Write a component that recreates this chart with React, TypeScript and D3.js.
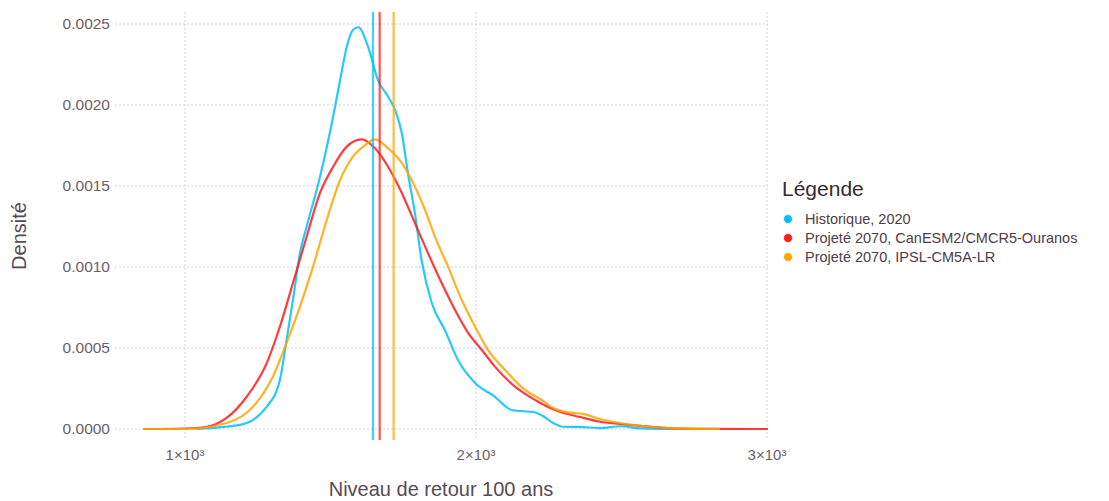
import React, { useEffect } from "react";
import * as d3 from "d3";

// ---- data ----
const xTicks = [1000, 2000, 3000];
const xTickLabels = ["1×10³", "2×10³", "3×10³"];
const yTicks = [0, 0.0005, 0.001, 0.0015, 0.002, 0.0025];
const yTickLabels = ["0.0000", "0.0005", "0.0010", "0.0015", "0.0020", "0.0025"];

const seriesNames = ["Historique, 2020", "Projeté 2070, CanESM2/CMCR5-Ouranos", "Projeté 2070, IPSL-CM5A-LR"];
const seriesColors = ["#00BFFF", "#FF1A1A", "#FFA500"];
const meanValues = [1646, 1669, 1717];

// density in units of 1e-4
const histX = [1040, 1189, 1281, 1326, 1349, 1371, 1395, 1418, 1464, 1509, 1533, 1556, 1577, 1596, 1629, 1663, 1698, 1722, 1745, 1766, 1790, 1813, 1848, 1893, 1938, 1997, 2065, 2123, 2203, 2230, 2265, 2299, 2368, 2426, 2495, 2564, 2724];
const histD = [0, 0.25, 1.38, 3.02, 5.49, 7.96, 10.86, 12.49, 15.57, 19.28, 21.54, 23.6, 24.63, 24.8, 23.6, 21.54, 20.51, 19.69, 18.27, 15.8, 13.33, 10.43, 7.78, 6.11, 4.26, 2.84, 1.99, 1.17, 1.02, 0.8, 0.37, 0.14, 0.12, 0.06, 0.17, 0.04, 0];

const canX = [856, 1000, 1075, 1143, 1212, 1281, 1326, 1371, 1418, 1464, 1509, 1556, 1607, 1653, 1698, 1745, 1790, 1835, 1882, 1928, 1973, 2020, 2065, 2134, 2203, 2271, 2357, 2426, 2495, 2564, 2677, 2794, 3003];
const canD = [0, 0.03, 0.14, 0.68, 1.99, 4.07, 6.31, 9.01, 11.87, 14.57, 16.19, 17.43, 17.88, 17.33, 16.19, 14.57, 12.72, 10.86, 9.01, 7.35, 5.93, 4.88, 3.85, 2.61, 1.79, 1.17, 0.74, 0.45, 0.31, 0.19, 0.04, 0.01, 0];

const ipslX = [856, 1000, 1143, 1234, 1302, 1349, 1395, 1440, 1487, 1533, 1577, 1619, 1653, 1698, 1745, 1790, 1825, 1859, 1904, 1951, 1997, 2041, 2100, 2168, 2226, 2265, 2323, 2368, 2426, 2495, 2564, 2677, 2838];
const ipslD = [0, 0, 0.37, 1.38, 3.23, 5.31, 7.55, 10.02, 12.9, 15.37, 16.81, 17.53, 17.88, 17.33, 16.42, 14.96, 13.52, 11.87, 10.02, 7.96, 6.31, 4.88, 3.64, 2.41, 1.79, 1.3, 1.01, 0.93, 0.62, 0.37, 0.2, 0.04, 0.01];

const seriesX = [histX, canX, ipslX];
const seriesD = [histD, canD, ipslD];

const FONT = "'Liberation Sans', Arial, Helvetica, sans-serif";

export default function App() {
  useEffect(() => {
    document.body.style.margin = "0";
  }, []);

  const W = 1109, H = 501;
  const x = d3.scaleLinear().domain([1000, 3000]).range([185, 767]);
  const y = d3.scaleLinear().domain([0, 0.0025]).range([429, 24]);
  const gridLeft = 115, gridRight = 768, gridTop = 12, gridBottom = 440;

  const line = d3
    .line<[number, number]>()
    .x((d) => x(d[0]))
    .y((d) => y(d[1] * 1e-4))
    .curve(d3.curveMonotoneX);

  const gridStyle = { stroke: "#D0D0E0", strokeWidth: 1, strokeDasharray: "2,2" };

  return (
    <svg width={W} height={H} style={{ position: "absolute", left: 0, top: 0, background: "#fff" }} fontFamily={FONT}>
      {/* grid */}
      {yTicks.map((t) => (
        <line key={"gy" + t} x1={gridLeft} x2={gridRight} y1={y(t)} y2={y(t)} {...gridStyle} />
      ))}
      {xTicks.map((t) => (
        <line key={"gx" + t} x1={x(t)} x2={x(t)} y1={gridTop} y2={gridBottom} {...gridStyle} />
      ))}
      {/* y tick labels */}
      {yTicks.map((t, i) => (
        <text key={"ty" + t} x={110} y={y(t)} dy="0.35em" textAnchor="end" fontSize={15.5} fill="#6c606b">
          {yTickLabels[i]}
        </text>
      ))}
      {/* x tick labels */}
      {xTicks.map((t, i) => (
        <text key={"tx" + t} x={x(t)} y={460} textAnchor="middle" fontSize={15} fill="#6c606b">
          {xTickLabels[i]}
        </text>
      ))}
      {/* curves */}
      {seriesX.map((xs, i) => (
        <path
          key={"c" + i}
          d={line(xs.map((v, j) => [v, seriesD[i][j]]) as [number, number][]) || ""}
          fill="none"
          stroke={seriesColors[i]}
          strokeWidth={2.2}
          strokeOpacity={0.85}
        />
      ))}
      {/* mean lines */}
      {meanValues.map((m, i) => (
        <line key={"m" + i} x1={x(m)} x2={x(m)} y1={gridTop} y2={gridBottom} stroke={seriesColors[i]} strokeWidth={2.2} strokeOpacity={0.75} />
      ))}
      {/* axis titles */}
      <text x={441} y={496} textAnchor="middle" fontSize={20} fill="#564a55">
        Niveau de retour 100 ans
      </text>
      <text transform={`translate(26,236) rotate(-90)`} textAnchor="middle" fontSize={20} fill="#564a55">
        Densité
      </text>
      {/* legend */}
      <text x={782} y={196} fontSize={21} fill="#362a35">
        Légende
      </text>
      {seriesNames.map((n, i) => (
        <g key={"l" + i}>
          <circle cx={788} cy={219 + i * 19} r={4.5} fill={seriesColors[i]} stroke="#fff" strokeWidth={0.8} />
          <text x={805} y={219 + i * 19} dy="0.35em" fontSize={14.5} fill="#4c404b">
            {n}
          </text>
        </g>
      ))}
    </svg>
  );
}
